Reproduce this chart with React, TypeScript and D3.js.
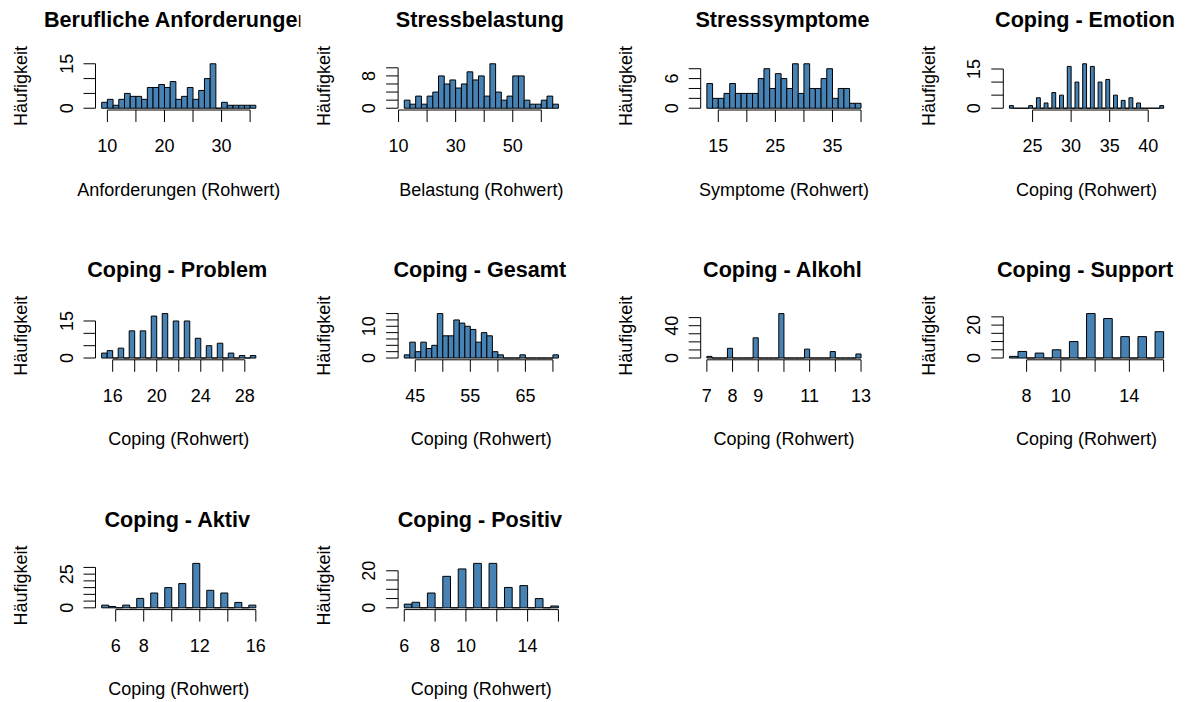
import React from "react";
import * as d3 from "d3";

// ---- data: bin layout [first break, last break, bin width] and counts per bin ----
const anfBreaks = [9, 36, 1];
const anfCounts = [2, 3, 1, 3, 5, 4, 4, 3, 7, 7, 8, 7, 9, 3, 4, 7, 3, 6, 10, 15, 0, 2, 1, 1, 1, 1, 1];

const belBreaks = [12, 66, 2];
const belCounts = [2, 1, 3, 1, 3, 4, 8, 6, 7, 5, 6, 9, 7, 8, 3, 11, 4, 2, 3, 8, 8, 2, 1, 1, 2, 3, 1];

const symBreaks = [13, 40, 1];
const symCounts = [5, 2, 2, 3, 5, 3, 3, 3, 3, 6, 8, 4, 7, 6, 4, 9, 3, 9, 4, 4, 6, 8, 2, 4, 4, 1, 1];

const emoBreaks = [22, 42, 0.5];
const emoCounts = [1, 0, 0, 0, 0, 1, 0, 4, 0, 2, 0, 6, 0, 5, 0, 16, 0, 10, 0, 17, 0, 16, 0, 10, 0, 11, 0, 5, 0, 3, 0, 4, 0, 2, 0, 0, 0, 0, 0, 1];

const probBreaks = [15, 29, 0.5];
const probCounts = [2, 3, 0, 4, 0, 11, 0, 11, 0, 17, 0, 18, 0, 15, 0, 15, 0, 8, 0, 5, 0, 6, 0, 2, 0, 1, 0, 1];

const gesBreaks = [43, 71, 1];
const gesCounts = [1, 5, 2, 5, 3, 4, 14, 7, 7, 12, 11, 10, 9, 5, 8, 7, 2, 1, 0, 0, 0, 1, 0, 0, 0, 0, 0, 1];

const alkBreaks = [7, 13, 0.2];
const alkCounts = [2, 0, 0, 0, 12, 0, 0, 0, 0, 25, 0, 0, 0, 0, 55, 0, 0, 0, 0, 11, 0, 0, 0, 0, 8, 0, 0, 0, 0, 5];

const supBreaks = [7, 16, 0.5];
const supCounts = [1, 4, 0, 3, 0, 5, 0, 10, 0, 27, 0, 24, 0, 13, 0, 13, 0, 16];

const aktBreaks = [5, 16, 0.5];
const aktCounts = [2, 1, 0, 2, 0, 7, 0, 11, 0, 15, 0, 18, 0, 33, 0, 13, 0, 11, 0, 4, 0, 2];

const posBreaks = [6, 16, 0.5];
const posCounts = [2, 3, 0, 8, 0, 17, 0, 21, 0, 24, 0, 24, 0, 11, 0, 12, 0, 5, 0, 1];

// ---- titles and axis labels ----
const titles = [
  "Berufliche Anforderungen", "Stressbelastung", "Stresssymptome", "Coping - Emotion",
  "Coping - Problem", "Coping - Gesamt", "Coping - Alkohl", "Coping - Support",
  "Coping - Aktiv", "Coping - Positiv",
];
const xTitles = [
  "Anforderungen (Rohwert)", "Belastung (Rohwert)", "Symptome (Rohwert)", "Coping (Rohwert)",
  "Coping (Rohwert)", "Coping (Rohwert)", "Coping (Rohwert)", "Coping (Rohwert)",
  "Coping (Rohwert)", "Coping (Rohwert)",
];
const yTitle = "Häufigkeit";

// ---- tick positions and the ones that carry a label ----
const xTicks = [
  [10, 15, 20, 25, 30, 35], [10, 20, 30, 40, 50, 60], [15, 20, 25, 30, 35, 40], [25, 30, 35, 40],
  [16, 18, 20, 22, 24, 26, 28], [45, 50, 55, 60, 65, 70], [7, 8, 9, 10, 11, 12, 13], [8, 10, 12, 14, 16],
  [6, 8, 10, 12, 14, 16], [6, 8, 10, 12, 14, 16],
];
const xTickLabels = [
  [10, 20, 30], [10, 30, 50], [15, 25, 35], [25, 30, 35, 40],
  [16, 20, 24, 28], [45, 55, 65], [7, 8, 9, 11, 13], [8, 10, 14],
  [6, 8, 12, 16], [6, 8, 10, 14],
];
const yTicks = [
  [0, 5, 10, 15], [0, 2, 4, 6, 8, 10], [0, 2, 4, 6, 8], [0, 5, 10, 15],
  [0, 5, 10, 15], [0, 2, 4, 6, 8, 10, 12, 14], [0, 10, 20, 30, 40, 50], [0, 5, 10, 15, 20, 25],
  [0, 5, 10, 15, 20, 25, 30], [0, 5, 10, 15, 20],
];
const yTickLabels = [
  [0, 15], [0, 8], [0, 6], [0, 15],
  [0, 15], [0, 10], [0, 40], [0, 20],
  [0, 25], [0, 20],
];

const breakSpecs = [anfBreaks, belBreaks, symBreaks, emoBreaks, probBreaks, gesBreaks, alkBreaks, supBreaks, aktBreaks, posBreaks];
const countSeries = [anfCounts, belCounts, symCounts, emoCounts, probCounts, gesCounts, alkCounts, supCounts, aktCounts, posCounts];

// ---- layout ----
const WIDTH = 1185;
const HEIGHT = 702;
const NCOL = 4;
const PLOT_X0 = 95.5;
const PLOT_Y0 = 62;
const COL_STEP = 302.6;
const ROW_STEP = 249.8;
const PLOT_W = 166.5;
const PLOT_H = 48;
const FIG_LEFT = 99.6; // figure-region margin left of the plot area
const FIG_W = 304.5;
const TICK = 12;
const FONT = "'Liberation Sans', Arial, Helvetica, sans-serif";
const BAR_FILL = "#4682B4";

function Panel({ idx }: { idx: number }) {
  const col = idx % NCOL;
  const row = Math.floor(idx / NCOL);
  const left = PLOT_X0 + col * COL_STEP;
  const top = PLOT_Y0 + row * ROW_STEP;
  const bottom = top + PLOT_H;

  const [b0, b1, bw] = breakSpecs[idx];
  const counts = countSeries[idx];
  const breaks = d3.range(counts.length + 1).map((i) => b0 + i * bw);
  const span = b1 - b0;
  const x = d3.scaleLinear().domain([b0 - 0.04 * span, b1 + 0.04 * span]).range([left, left + PLOT_W]);
  const maxC = d3.max(counts) as number;
  const y = d3.scaleLinear().domain([-0.04 * maxC, 1.04 * maxC]).range([bottom, top]);

  const xt = xTicks[idx];
  const yt = yTicks[idx];
  const clipId = `fig-${idx}`;

  return (
    <g clipPath={`url(#${clipId})`}>
      <defs>
        <clipPath id={clipId}>
          <rect x={left - FIG_LEFT} y={top - PLOT_Y0} width={FIG_W} height={ROW_STEP} />
        </clipPath>
      </defs>

      {/* histogram bins */}
      {counts.map((c, i) => {
        const x0 = x(breaks[i]);
        const x1 = x(breaks[i + 1]);
        const y0 = y(0);
        const y1 = y(c);
        return (
          <path
            key={i}
            d={`M${x0},${y0}L${x0},${y1}L${x1},${y1}L${x1},${y0}Z`}
            fill={BAR_FILL}
            stroke="#000"
            strokeWidth={1}
          />
        );
      })}

      {/* x axis */}
      <line x1={x(xt[0])} x2={x(xt[xt.length - 1])} y1={bottom} y2={bottom} stroke="#000" strokeWidth={1} />
      {xt.map((v) => (
        <line key={v} x1={x(v)} x2={x(v)} y1={bottom} y2={bottom + TICK} stroke="#000" strokeWidth={1} />
      ))}
      {xTickLabels[idx].map((v) => (
        <text key={v} x={x(v)} y={bottom + 42} textAnchor="middle" fontSize={18} fontFamily={FONT} fill="#000">
          {v}
        </text>
      ))}

      {/* y axis */}
      <line x1={left} x2={left} y1={y(yt[0])} y2={y(yt[yt.length - 1])} stroke="#000" strokeWidth={1} />
      {yt.map((v) => (
        <line key={v} x1={left - TICK} x2={left} y1={y(v)} y2={y(v)} stroke="#000" strokeWidth={1} />
      ))}
      {yTickLabels[idx].map((v) => (
        <text
          key={v}
          transform={`translate(${left - 23},${y(v)}) rotate(-90)`}
          textAnchor="middle"
          fontSize={18}
          fontFamily={FONT}
          fill="#000"
        >
          {v}
        </text>
      ))}

      {/* titles */}
      <text x={left + PLOT_W / 2 - 1.5} y={top - 34.7} textAnchor="middle" fontSize={21.6} fontWeight="bold" fontFamily={FONT} fill="#000">
        {titles[idx]}
      </text>
      <text x={left + PLOT_W / 2} y={bottom + 85.5} textAnchor="middle" fontSize={18} fontFamily={FONT} fill="#000">
        {xTitles[idx]}
      </text>
      <text
        transform={`translate(${left - 68.5},${top + PLOT_H / 2}) rotate(-90)`}
        textAnchor="middle"
        fontSize={18}
        fontFamily={FONT}
        fill="#000"
      >
        {yTitle}
      </text>
    </g>
  );
}

export default function App() {
  return (
    <div style={{ position: "absolute", left: 0, top: 0, background: "#fff" }}>
      <svg width={WIDTH} height={HEIGHT} viewBox={`0 0 ${WIDTH} ${HEIGHT}`} style={{ display: "block" }}>
        <rect width={WIDTH} height={HEIGHT} fill="#fff" />
        {titles.map((_, i) => (
          <Panel key={i} idx={i} />
        ))}
      </svg>
    </div>
  );
}
